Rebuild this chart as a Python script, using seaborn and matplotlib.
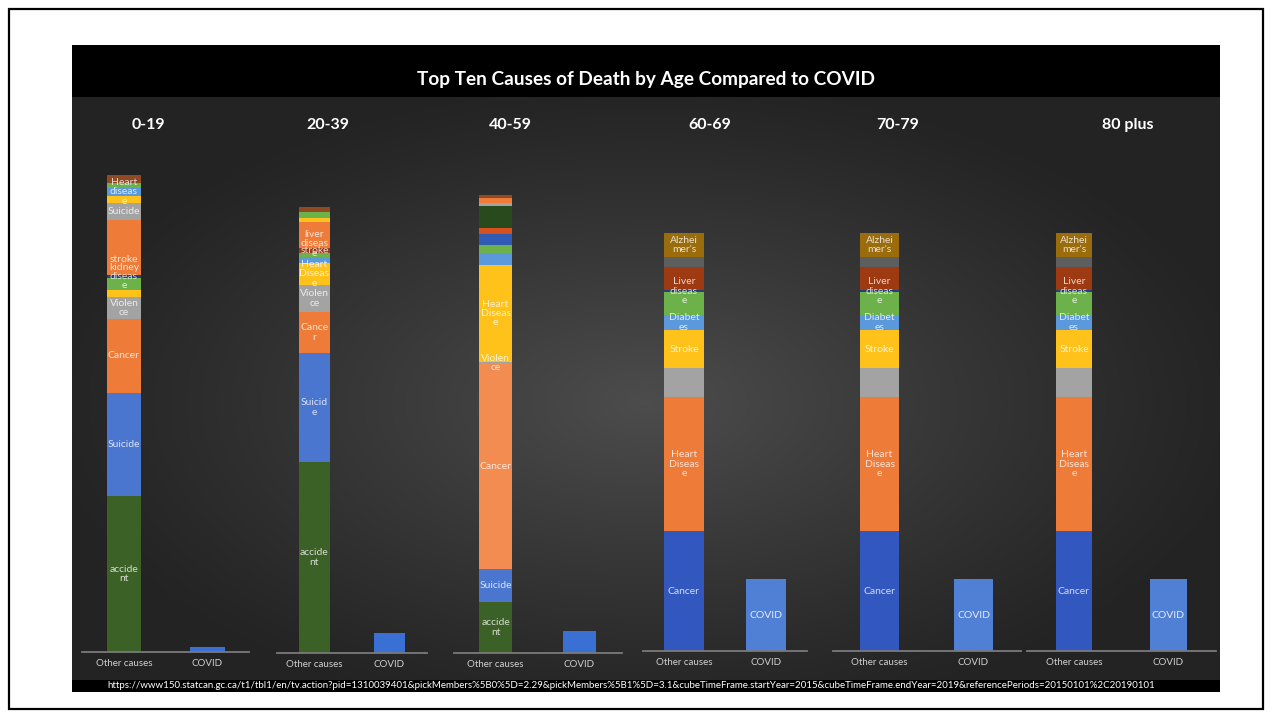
import numpy as np
import pandas as pd
import matplotlib
matplotlib.use("Agg")
import matplotlib.pyplot as plt
from matplotlib.patches import Rectangle
import seaborn as sns

sns.set_theme(style="white")
plt.rcParams['font.family'] = ['Lato', 'DejaVu Sans']

# ---------------------------------------------------------------- data
TITLE = "Top Ten Causes of Death by Age Compared to COVID"
SOURCE = ("https://www150.statcan.gc.ca/t1/tbl1/en/tv.action?pid=1310039401"
          "&pickMembers%5B0%5D=2.29&pickMembers%5B1%5D=3.1"
          "&cubeTimeFrame.startYear=2015&cubeTimeFrame.endYear=2019"
          "&referencePeriods=20150101%2C20190101")
AGE_GROUPS = ["0-19", "20-39", "40-59", "60-69", "70-79", "80 plus"]
CATEGORIES = ["Other causes", "COVID"]

# stacked segments of the "Other causes" bar, bottom to top
seg_0_19 = [156, 103, 74, 22, 7, 12, 3, 30, 25, 17, 7, 8, 5, 8]
lab_0_19 = ["accide\nnt", "Suicide", "Cancer", "Violen\nce", "", "",
            "kidney\ndiseas\ne", "stroke", "", "Suicide", "",
            "Heart\ndiseas\ne", "", ""]
shade_0_19 = ["dkgreen", "blue", "orange", "gray", "gold", "green", "navy",
              "orange", "orange", "gray", "gold", "ltblue", "green", "brown"]

seg_20_39 = [191, 109, 41, 27, 22, 6, 4, 5, 8, 18, 4, 6, 5]
lab_20_39 = ["accide\nnt", "Suicid\ne", "Cance\nr", "Violen\nce",
             "Heart\nDiseas\ne", "", "", "stroke", "liver\ndiseas\ne",
             "", "", "", ""]
shade_20_39 = ["dkgreen", "blue", "orange", "gray", "gold", "ltblue", "green",
               "darkred", "orange", "orange", "gold", "green", "brown"]

seg_40_59 = [51, 33, 205, 2, 97, 12, 8, 11, 6, 22, 3, 5, 3]
lab_40_59 = ["accide\nnt", "Suicide", "Cancer", "Violen\nce",
             "Heart\nDiseas\ne", "", "", "", "", "", "", "", ""]
shade_40_59 = ["dkgreen", "blue", "salmon", "gray", "gold", "ltblue", "green",
               "blue2", "redorange", "darkgreen2", "gray", "orange", "brown"]

seg_60_plus = [120, 134, 29, 38, 15, 23, 2, 23, 10, 24]
lab_60_plus = ["Cancer", "Heart\nDiseas\ne", "", "Stroke", "Diabet\nes", "",
               "Liver\ndiseas\ne", "", "", "Alzhei\nmer's"]
shade_60_plus = ["cancerblue", "orange", "gray", "gold", "ltblue", "green",
                 "navy", "darkred", "dkgray", "olive"]

covid_values = [5, 20, 22, 72, 72, 72]
covid_labels = ["", "", "", "COVID", "COVID", "COVID"]

segments = [seg_0_19, seg_20_39, seg_40_59, seg_60_plus, seg_60_plus, seg_60_plus]
seg_labels = [lab_0_19, lab_20_39, lab_40_59, lab_60_plus, lab_60_plus, lab_60_plus]
seg_shades = [shade_0_19, shade_20_39, shade_40_59,
              shade_60_plus, shade_60_plus, shade_60_plus]

# ---------------------------------------------------------------- style
PALETTE = {
    "dkgreen": "#3b6126", "blue": "#4a76d0", "orange": "#ee7b38",
    "salmon": "#f28c50", "gray": "#a3a3a3", "gold": "#fec21a",
    "green": "#6cb14a", "navy": "#263f78", "ltblue": "#5c99dc",
    "brown": "#8f4a24", "darkred": "#9e3a12", "blue2": "#2f5bb5",
    "redorange": "#d9501f", "darkgreen2": "#284a1c", "dkgray": "#5e5e5e",
    "olive": "#9a6c0c", "cancerblue": "#3258bf",
}
COVID_EARLY = "#3a70d4"
COVID_LATE = "#5080d6"

W, H = 1273, 719
# layout in pixels: centre of the "Other causes" bar, spacing to COVID,
# baseline height, bar width as a fraction, header x
c0 = [124, 314.5, 495.5, 684, 879.5, 1074]
spacing = [83.5, 75, 84, 82, 94, 94.5]
baseline = [652, 653, 653, 651, 651, 651]
bar_w = [0.41, 0.41, 0.39, 0.49, 0.42, 0.39]
header_x = [148, 328, 510, 710, 898, 1128]
AX_PX = 520  # axes height in pixels == y-range units

fig = plt.figure(figsize=(W / 100, H / 100), dpi=100)
fig.patch.set_facecolor("white")

bg = fig.add_axes([0, 0, 1, 1], zorder=0)
bg.axis("off")
bg.add_patch(Rectangle((9, 9), W - 19, H - 19, fill=False, ec="black",
                       lw=1.6, zorder=1))
bg.add_patch(Rectangle((72, 45), 1148, 647, color="black", lw=0, zorder=1))

# soft radial gradient on the plot panel
gx = np.linspace(-1, 1, 400)
gy = np.linspace(-1, 1, 240)
GX, GY = np.meshgrid(gx, gy)
r = np.sqrt((GX / 1.05) ** 2 + ((GY - 0.05) / 1.1) ** 2)
val = 0.14 + 0.16 * np.clip(1 - r, 0, 1) ** 1.1
img = np.dstack([val, val, val])
bg.imshow(img, extent=(72, 1220, 680, 97), aspect="auto",
          interpolation="bilinear", zorder=2)
bg.set_xlim(0, W)
bg.set_ylim(H, 0)

bg.text(646, 80, TITLE, color="white", fontsize=13.7, fontweight="bold",
        ha="center", va="center", zorder=3)
bg.text(631, 686, SOURCE, color="white", fontsize=7.0, ha="center",
        va="center", zorder=3)

for i, grp in enumerate(AGE_GROUPS):
    s = spacing[i]
    left = c0[i] - s / 2
    ax = fig.add_axes([left / W, 1 - baseline[i] / H, 2 * s / W, AX_PX / H], zorder=2)
    ax.set_facecolor("none")

    vals = np.array(segments[i], dtype=float)
    cum = np.cumsum(vals)
    # draw cumulative layers from the top down so each visible band is one cause
    for k in range(len(vals) - 1, -1, -1):
        df = pd.DataFrame({"group": ["Other causes"], "value": [cum[k]]})
        sns.barplot(data=df, x="group", y="value", order=CATEGORIES,
                    color=PALETTE[seg_shades[i][k]], saturation=1,
                    width=bar_w[i], errorbar=None, linewidth=0, ax=ax)
    dfc = pd.DataFrame({"group": ["COVID"], "value": [covid_values[i]]})
    sns.barplot(data=dfc, x="group", y="value", order=CATEGORIES,
                color=COVID_EARLY if i < 3 else COVID_LATE, saturation=1,
                width=bar_w[i], errorbar=None, linewidth=0, ax=ax)

    for k, lab in enumerate(seg_labels[i]):
        if lab:
            ax.text(0, cum[k] - vals[k] / 2, lab, ha="center", va="center",
                    fontsize=7.5, color="white", alpha=0.78, linespacing=1.05)
    if covid_labels[i]:
        ax.text(1, covid_values[i] / 2, covid_labels[i], ha="center",
                va="center", fontsize=7.5, color="white", alpha=0.85)

    ax.set_xlim(-0.5, 1.5)
    ax.set_ylim(0, AX_PX)
    ax.set_xlabel("")
    ax.set_ylabel("")
    ax.set_yticks([])
    for side in ["top", "left", "right"]:
        ax.spines[side].set_visible(False)
    ax.spines["bottom"].set_color("#7a7a7a")
    ax.spines["bottom"].set_linewidth(1.3)
    ax.tick_params(axis="x", length=0, pad=5, labelsize=7, labelcolor="#d0d0d0")

    bg.text(header_x[i], 125, grp, color="white", fontsize=11.5,
            fontweight="bold", ha="center", va="center", zorder=3)

fig.savefig("out.png", dpi=100, facecolor="white")
